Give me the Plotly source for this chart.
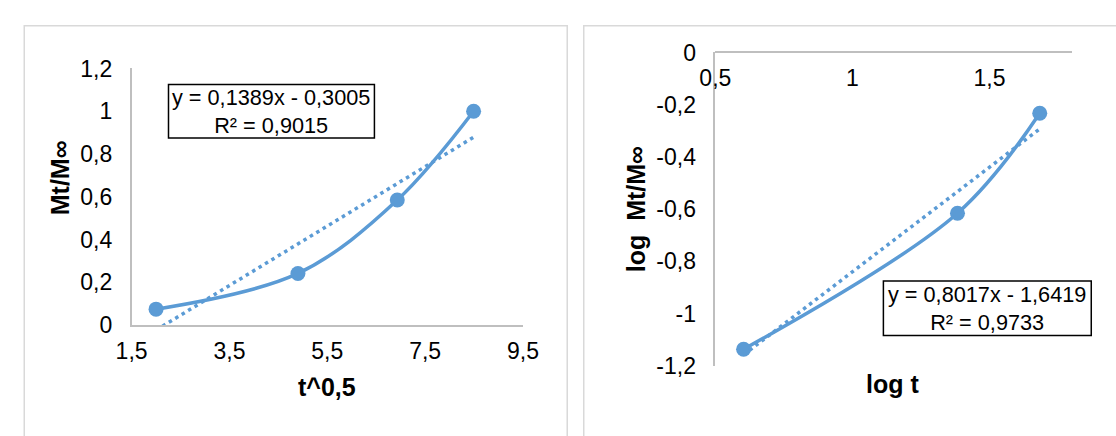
import plotly.graph_objects as go

# ---------------- data ----------------
# Left panel: Mt/M∞ versus t^0.5
sqrt_t = [2.0, 4.9, 6.93, 8.49]
mt_minf = [0.075, 0.242, 0.585, 1.0]
left_slope, left_intercept = 0.1389, -0.3005
left_eq = "y = 0,1389x - 0,3005"
left_r2 = "R² = 0,9015"

# Right panel: log Mt/M∞ versus log t
log_t = [0.603, 1.383, 1.683]
log_mt = [-1.137, -0.616, -0.233]
right_slope, right_intercept = 0.8017, -1.6419
right_eq = "y = 0,8017x - 1,6419"
right_r2 = "R² = 0,9733"

# tick labels
left_xticks = [1.5, 3.5, 5.5, 7.5, 9.5]
left_xtext = ["1,5", "3,5", "5,5", "7,5", "9,5"]
left_yticks = [0, 0.2, 0.4, 0.6, 0.8, 1.0, 1.2]
left_ytext = ["0", "0,2", "0,4", "0,6", "0,8", "1", "1,2"]
right_xticks = [0.5, 1.0, 1.5]
right_xtext = ["0,5", "1", "1,5"]
right_yticks = [0, -0.2, -0.4, -0.6, -0.8, -1.0, -1.2]
right_ytext = ["0", "-0,2", "-0,4", "-0,6", "-0,8", "-1", "-1,2"]

# ---------------- styling ----------------
W, H = 1116, 436
BLUE = "#5B9BD5"
AXIS = "#BFBFBF"
BORDER = "#D9D9D9"
FONT = "Liberation Sans, Arial, sans-serif"
TICK_SIZE = 23
EQ_SIZE = 21.7
TITLE_SIZE = 25


def px_x(p):
    return p / W


def px_y(p):
    return 1 - p / H


fig = go.Figure()

# left series + linear trendline
fig.add_trace(go.Scatter(
    x=sqrt_t, y=mt_minf, mode="lines+markers",
    line=dict(color=BLUE, width=3.5, shape="spline", smoothing=1.0),
    marker=dict(color=BLUE, size=15), xaxis="x", yaxis="y", showlegend=False))
lx = [sqrt_t[0], sqrt_t[-1]]
fig.add_trace(go.Scatter(
    x=lx, y=[left_slope * v + left_intercept for v in lx], mode="lines",
    line=dict(color=BLUE, width=3.5, dash="3.5px,4px"),
    xaxis="x", yaxis="y", showlegend=False))

# right series + linear trendline
fig.add_trace(go.Scatter(
    x=log_t, y=log_mt, mode="lines+markers",
    line=dict(color=BLUE, width=3.5, shape="spline", smoothing=1.0),
    marker=dict(color=BLUE, size=15), xaxis="x2", yaxis="y2", showlegend=False))
rx = [log_t[0], log_t[-1]]
fig.add_trace(go.Scatter(
    x=rx, y=[right_slope * v + right_intercept for v in rx], mode="lines",
    line=dict(color=BLUE, width=3.5, dash="3.5px,4px"),
    xaxis="x2", yaxis="y2", showlegend=False))

tickfont = dict(family=FONT, size=TICK_SIZE, color="#000000")
common = dict(showgrid=False, zeroline=False, showline=True, linecolor=AXIS,
              linewidth=1.5, ticks="", tickfont=tickfont, fixedrange=True)

fig.update_layout(
    width=W, height=H, autosize=False,
    margin=dict(l=0, r=0, t=0, b=0, pad=0),
    paper_bgcolor="white", plot_bgcolor="rgba(0,0,0,0)",
    font=dict(family=FONT, color="#000000"),
    xaxis=dict(domain=[px_x(119), px_x(522)], range=[1.5, 9.5],
               tickvals=left_xticks, ticktext=left_xtext, anchor="y",
               ticklabelstandoff=4, **common),
    yaxis=dict(domain=[px_y(332), px_y(59)], range=[0, 1.2],
               tickvals=left_yticks, ticktext=left_ytext, anchor="x",
               ticklabelstandoff=13, **common),
    xaxis2=dict(domain=[px_x(720), px_x(1087)], range=[0.5, 1.8],
                tickvals=right_xticks, ticktext=right_xtext, anchor="free",
                position=px_y(42), side="bottom", ticklabelstandoff=5,
                **common),
    yaxis2=dict(domain=[px_y(375), px_y(42)], range=[-1.2, 0],
                tickvals=right_yticks, ticktext=right_ytext, anchor="x2",
                ticklabelstandoff=13, **common),
)

shapes = [
    # panel borders
    dict(type="rect", xref="paper", yref="paper", layer="below",
         x0=px_x(8.5), x1=px_x(567.5), y0=-0.2, y1=px_y(13.5),
         line=dict(color=BORDER, width=1.5), fillcolor="rgba(0,0,0,0)"),
    dict(type="rect", xref="paper", yref="paper", layer="below",
         x0=px_x(584.5), x1=1.2, y0=-0.2, y1=px_y(13.5),
         line=dict(color=BORDER, width=1.5), fillcolor="rgba(0,0,0,0)"),
    # equation boxes
    dict(type="rect", xref="paper", yref="paper",
         x0=px_x(157), x1=px_x(369), y0=px_y(133), y1=px_y(76),
         line=dict(color="#000000", width=1.5), fillcolor="white"),
    dict(type="rect", xref="paper", yref="paper",
         x0=px_x(893), x1=px_x(1107), y0=px_y(343), y1=px_y(285),
         line=dict(color="#000000", width=1.5), fillcolor="white"),
]
fig.update_layout(shapes=shapes)

eqfont = dict(family=FONT, size=EQ_SIZE, color="#000000")
titlefont = dict(family=FONT, size=TITLE_SIZE, color="#000000")


def ann(text, x, y, font, angle=0):
    return dict(text=text, xref="paper", yref="paper", x=px_x(x), y=px_y(y),
                xanchor="center", yanchor="middle", showarrow=False,
                font=font, textangle=angle)


annotations = [
    ann(left_eq + "<br>" + left_r2, 263, 104.5, eqfont),
    ann(right_eq + "<br>" + right_r2, 1000, 314, eqfont),
    ann("<b>t^0,5</b>", 320, 398, titlefont),
    ann("<b>Mt/M∞</b>", 45, 175, titlefont, -90),
    ann("<b>log t</b>", 902, 395, titlefont),
    ann("<b>log\u00a0\u00a0Mt/M∞</b>", 638, 209, titlefont, -90),
]
fig.update_layout(annotations=annotations)

fig.write_html("out.html")
